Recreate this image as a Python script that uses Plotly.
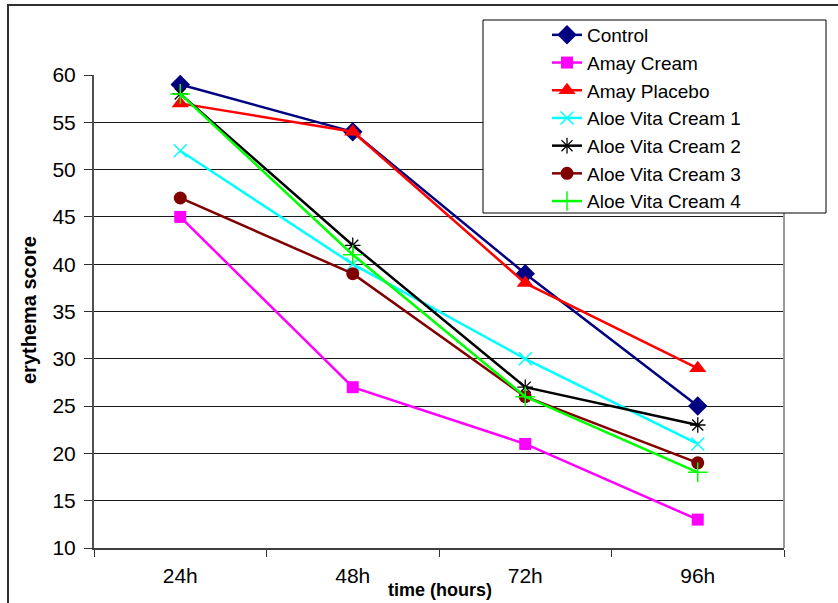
import plotly.graph_objects as go

# Time points and erythema scores per treatment
time_points = ["24h", "48h", "72h", "96h"]
control = [59, 54, 39, 25]
amay_cream = [45, 27, 21, 13]
amay_placebo = [57, 54, 38, 29]
aloe_vita_1 = [52, 40, 30, 21]
aloe_vita_2 = [58, 42, 27, 23]
aloe_vita_3 = [47, 39, 26, 19]
aloe_vita_4 = [58, 41, 26, 18]

series = [
    ("Control", control, "#000080", "diamond", 15, 0),
    ("Amay Cream", amay_cream, "#FF00FF", "square", 12, 0),
    ("Amay Placebo", amay_placebo, "#FF0000", "triangle-up", 15, 0),
    ("Aloe Vita Cream 1", aloe_vita_1, "#00FFFF", "x-thin", 13, 1.5),
    ("Aloe Vita Cream 2", aloe_vita_2, "#000000", "asterisk", 13, 1.3),
    ("Aloe Vita Cream 3", aloe_vita_3, "#800000", "circle", 13, 0),
    ("Aloe Vita Cream 4", aloe_vita_4, "#00FF00", "cross-thin", 14, 1.5),
]

FONT = "Liberation Sans, Arial, sans-serif"

fig = go.Figure()
for name, vals, color, symbol, size, lw in series:
    marker = dict(symbol=symbol, size=size, color=color)
    if lw:
        marker["line"] = dict(color=color, width=lw)
    else:
        marker["line"] = dict(width=0)
    fig.add_trace(go.Scatter(
        x=time_points, y=vals, name=name, mode="lines+markers",
        line=dict(color=color, width=2.5), marker=marker,
    ))

# plot area geometry (pixels) used to place shapes in paper units
L, R, T, B = 94, 784, 75, 548
W, H = R - L, B - T


def px(x):
    return (x - L) / W


def py(y):
    return (B - y) / H


shapes = [
    # outer frame around the whole chart
    dict(type="rect", xref="paper", yref="paper",
         x0=px(8), x1=px(845), y0=py(612), y1=py(5),
         line=dict(color="#303030", width=2), fillcolor="rgba(0,0,0,0)",
         layer="above"),
    # right border of the plot area
    dict(type="line", xref="paper", yref="paper",
         x0=1, x1=1, y0=0, y1=1, line=dict(color="#9a9a9a", width=2)),
    # legend frame
    dict(type="rect", xref="paper", yref="paper",
         x0=px(483), x1=px(826), y0=py(213), y1=py(20),
         line=dict(color="#000000", width=1), fillcolor="white",
         layer="above"),
]

fig.update_layout(
    width=838, height=603,
    margin=dict(l=L, r=838 - R, t=T, b=603 - B),
    paper_bgcolor="white", plot_bgcolor="white",
    font=dict(family=FONT, color="black"),
    showlegend=True,
    legend=dict(
        x=px(547), xanchor="left", y=py(16), yanchor="top",
        bgcolor="rgba(0,0,0,0)", borderwidth=0,
        font=dict(family=FONT, size=19, color="black"),
        tracegroupgap=0, itemwidth=30,
    ),
    shapes=shapes,
    annotations=[
        dict(text="<b>erythema score</b>", xref="paper", yref="paper",
             x=px(29), y=py(310), xanchor="center", yanchor="middle",
             textangle=-90, showarrow=False,
             font=dict(family=FONT, size=20, color="black")),
        dict(text="<b>time (hours)</b>", xref="paper", yref="paper",
             x=px(440), y=py(590), xanchor="center", yanchor="middle",
             showarrow=False,
             font=dict(family=FONT, size=18, color="black")),
    ],
)

fig.update_xaxes(
    type="category", range=[-0.5, 3.5],
    tickson="boundaries", ticks="outside", ticklen=7, tickwidth=1,
    tickcolor="#303030",
    showline=True, linecolor="#404040", linewidth=2,
    showgrid=False,
    tickfont=dict(family=FONT, size=21, color="black"),
    ticklabelstandoff=8,
)
fig.update_yaxes(
    range=[10, 60], dtick=5, tick0=10,
    ticks="outside", ticklen=8, tickcolor="#303030",
    showline=True, linecolor="#505050", linewidth=2,
    showgrid=True, gridcolor="#1a1a1a", gridwidth=1,
    zeroline=False,
    tickfont=dict(family=FONT, size=21, color="black"),
    ticklabelstandoff=4,
)

fig.write_html("out.html")
